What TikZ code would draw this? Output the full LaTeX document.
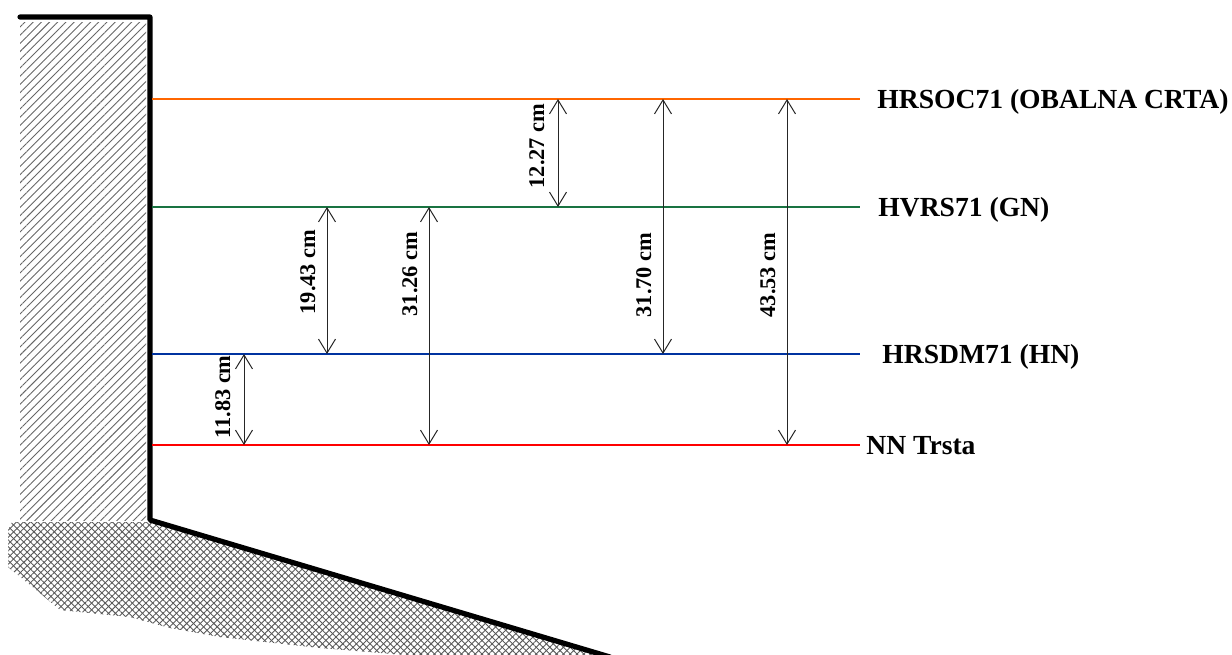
\documentclass[tikz,border=0pt]{standalone}
\usepackage{fontspec}
\setmainfont{Liberation Serif}
\usetikzlibrary{arrows.meta,patterns.meta}
\definecolor{obalna}{RGB}{255,102,0}
\definecolor{gncol}{RGB}{25,115,65}
\definecolor{hncol}{RGB}{0,51,160}
\definecolor{nncol}{RGB}{255,0,0}
\tikzset{
  level/.style={line width=1.2pt},
  levellabel/.style={anchor=base west, inner sep=0pt, font=\bfseries\fontsize{13.8}{16}\selectfont},
  dim/.style={{Straight Barb[length=7pt,width=8.5pt]}-{Straight Barb[length=7pt,width=8.5pt]}, line width=0.5pt, black!85},
  dimlabel/.style={rotate=90, anchor=base, inner sep=0pt, font=\bfseries\fontsize{11.2}{13}\selectfont},
  wall/.style={line width=2.6pt, line join=round, line cap=round},
}
\begin{document}
\begin{tikzpicture}[x=0.5pt,y=-0.5pt]
\useasboundingbox (0,0) rectangle (1232,654);
% hatched wall and ground
\fill[pattern={Lines[angle=45,distance=2.9pt,line width=0.45pt]}, pattern color=black!60] (20,22) rectangle (146,520);
\fill[pattern={Lines[angle=45,distance=2.4pt,line width=0.45pt]}, pattern color=black!65]
  (12,522) -- (150,522) -- (606,657) -- (430,657) -- (320,648) -- (220,637) -- (170,628) -- (130,617) -- (60,610) -- (40,593) -- (8,567) -- (8,530) -- cycle;
\fill[pattern={Lines[angle=-45,distance=2.4pt,line width=0.45pt]}, pattern color=black!65]
  (12,522) -- (150,522) -- (606,657) -- (430,657) -- (320,648) -- (220,637) -- (170,628) -- (130,617) -- (60,610) -- (40,593) -- (8,567) -- (8,530) -- cycle;
\coordinate (w0) at (20,17);
\coordinate (w1) at (150,17);
\coordinate (w2) at (150,520);
\coordinate (w3) at (610,657);
\draw[wall] (w0) -- (w1) -- (w2) -- (w3);
% levels
\coordinate (oc0) at (152,99);
\coordinate (oc1) at (860,99);
\coordinate (gn0) at (152,207);
\coordinate (gn1) at (860,207);
\coordinate (hn0) at (152,354);
\coordinate (hn1) at (860,354);
\coordinate (nn0) at (152,445);
\coordinate (nn1) at (860,445);
\draw[level, obalna] (oc0) -- (oc1);
\draw[level, gncol] (gn0) -- (gn1);
\draw[level, hncol] (hn0) -- (hn1);
\draw[level, nncol] (nn0) -- (nn1);
\node[levellabel] (oclab) at (877,108) {HRSOC71 (OBALNA CRTA)};
\node[levellabel] (gnlab) at (878,216) {HVRS71 (GN)};
\node[levellabel] (hnlab) at (882,363) {HRSDM71 (HN)};
\node[levellabel] (nnlab) at (866,454) {NN Trsta};
% dimensions
\coordinate (d1t) at (558,99);
\coordinate (d1b) at (558,207);
\draw[dim] (d1t) -- (d1b);
\node[dimlabel] (d1lab) at (544,146) {12.27 cm};
\coordinate (d2t) at (663,99);
\coordinate (d2b) at (663,354);
\draw[dim] (d2t) -- (d2b);
\node[dimlabel] (d2lab) at (651,275) {31.70 cm};
\coordinate (d3t) at (787,99);
\coordinate (d3b) at (787,445);
\draw[dim] (d3t) -- (d3b);
\node[dimlabel] (d3lab) at (775,275) {43.53 cm};
\coordinate (d4t) at (327,207);
\coordinate (d4b) at (327,354);
\draw[dim] (d4t) -- (d4b);
\node[dimlabel] (d4lab) at (315,272) {19.43 cm};
\coordinate (d5t) at (429,207);
\coordinate (d5b) at (429,445);
\draw[dim] (d5t) -- (d5b);
\node[dimlabel] (d5lab) at (417,274) {31.26 cm};
\coordinate (d6t) at (244,354);
\coordinate (d6b) at (244,445);
\draw[dim] (d6t) -- (d6b);
\node[dimlabel] (d6lab) at (230,397) {11.83 cm};
\end{tikzpicture}
\end{document}
